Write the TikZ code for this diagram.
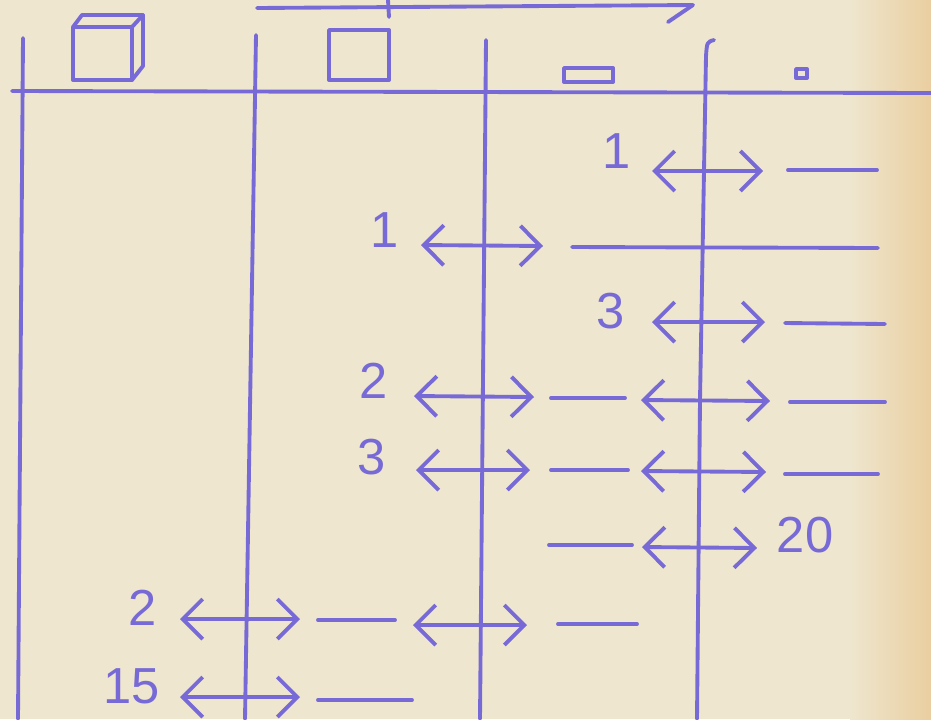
\documentclass[tikz,border=0pt]{standalone}
\usepackage{fontspec}
\setmainfont{Liberation Sans}
\usetikzlibrary{arrows.meta}
\definecolor{ink}{RGB}{120,106,214}
\definecolor{paper}{RGB}{238,230,206}
\definecolor{paperwarm}{RGB}{234,206,160}
\begin{document}
\begin{tikzpicture}[x=0.75pt,y=-0.75pt,
  inkline/.style={draw=ink,line width=2.9pt,line cap=round,line join=round},
  dbl/.style={inkline,{Straight Barb[length=15pt,width=30pt]}-{Straight Barb[length=15pt,width=30pt]}},
  num/.style={text=ink,font=\fontsize{38}{38}\selectfont,inner sep=0pt,anchor=base}]
% paper
\useasboundingbox (0,0) rectangle (931,719);
\fill[paper] (0,0) rectangle (931,719);
\shade[left color=paper,right color=paperwarm] (850,0) rectangle (931,719);

% top arrow
\coordinate (ta) at (257,8);
\coordinate (tb) at (693,5);
\coordinate (th) at (668,22);
\draw[inkline] (ta) -- (tb) -- (th);
\draw[inkline] (388,0) -- (389,17);

% header icons
\draw[inkline] (73,27) rectangle (132,80);
\draw[inkline] (73,27) -- (82,15) -- (143,15) -- (132,27);
\draw[inkline] (143,15) -- (143,66) -- (132,80);
\draw[inkline] (329,30) rectangle (389,80);
\draw[inkline] (564,68) rectangle (613,82);
\draw[inkline] (796,69) rectangle (807,78);

% grid
\draw[inkline] (12,91) -- (931,93);
\draw[inkline] (23,38) -- (18,719);
\draw[inkline] (256,35) -- (245,719);
\draw[inkline] (486,40) -- (480,719);
\draw[inkline] (714,40) .. controls (707,42) .. (706,56) -- (700,400) -- (697,719);

% row 1
\node[num] (n1) at (617,168) {1};
\coordinate (r1a) at (652,171); \coordinate (r1b) at (763,171);
\coordinate (r1c) at (788,170); \coordinate (r1d) at (877,170);
\draw[dbl] (r1a) -- (r1b);
\draw[inkline] (r1c) -- (r1d);

% row 2
\node[num] (n2) at (385,247) {1};
\coordinate (r2a) at (421,245); \coordinate (r2b) at (543,246);
\coordinate (r2c) at (572,247); \coordinate (r2d) at (878,248);
\draw[dbl] (r2a) -- (r2b);
\draw[inkline] (r2c) -- (r2d);

% row 3
\node[num] (n3) at (611,328) {3};
\coordinate (r3a) at (652,322); \coordinate (r3b) at (765,322);
\coordinate (r3c) at (785,323); \coordinate (r3d) at (885,324);
\draw[dbl] (r3a) -- (r3b);
\draw[inkline] (r3c) -- (r3d);

% row 4
\node[num] (n4) at (374,398) {2};
\coordinate (r4a) at (414,396); \coordinate (r4b) at (534,397);
\coordinate (r4c) at (551,398); \coordinate (r4d) at (625,398);
\coordinate (r4e) at (641,400); \coordinate (r4f) at (770,401);
\coordinate (r4g) at (790,402); \coordinate (r4h) at (885,402);
\draw[dbl] (r4a) -- (r4b);
\draw[inkline] (r4c) -- (r4d);
\draw[dbl] (r4e) -- (r4f);
\draw[inkline] (r4g) -- (r4h);

% row 5
\node[num] (n5) at (372,474) {3};
\coordinate (r5a) at (416,470); \coordinate (r5b) at (530,470);
\coordinate (r5c) at (551,470); \coordinate (r5d) at (628,470);
\coordinate (r5e) at (641,471); \coordinate (r5f) at (766,472);
\coordinate (r5g) at (785,474); \coordinate (r5h) at (878,474);
\draw[dbl] (r5a) -- (r5b);
\draw[inkline] (r5c) -- (r5d);
\draw[dbl] (r5e) -- (r5f);
\draw[inkline] (r5g) -- (r5h);

% row 6
\coordinate (r6c) at (549,545); \coordinate (r6d) at (632,545);
\coordinate (r6e) at (642,547); \coordinate (r6f) at (757,548);
\draw[inkline] (r6c) -- (r6d);
\draw[dbl] (r6e) -- (r6f);
\node[num] (n6) at (805,552) {20};

% row 7
\node[num] (n7) at (143,625) {2};
\coordinate (r7a) at (180,619); \coordinate (r7b) at (300,619);
\coordinate (r7c) at (318,620); \coordinate (r7d) at (395,620);
\coordinate (r7e) at (413,625); \coordinate (r7f) at (527,625);
\coordinate (r7g) at (558,624); \coordinate (r7h) at (637,624);
\draw[dbl] (r7a) -- (r7b);
\draw[inkline] (r7c) -- (r7d);
\draw[dbl] (r7e) -- (r7f);
\draw[inkline] (r7g) -- (r7h);

% row 8
\node[num] (n8) at (132,703) {15};
\coordinate (r8a) at (180,697); \coordinate (r8b) at (300,697);
\coordinate (r8c) at (318,700); \coordinate (r8d) at (412,700);
\draw[dbl] (r8a) -- (r8b);
\draw[inkline] (r8c) -- (r8d);
\end{tikzpicture}
\end{document}
